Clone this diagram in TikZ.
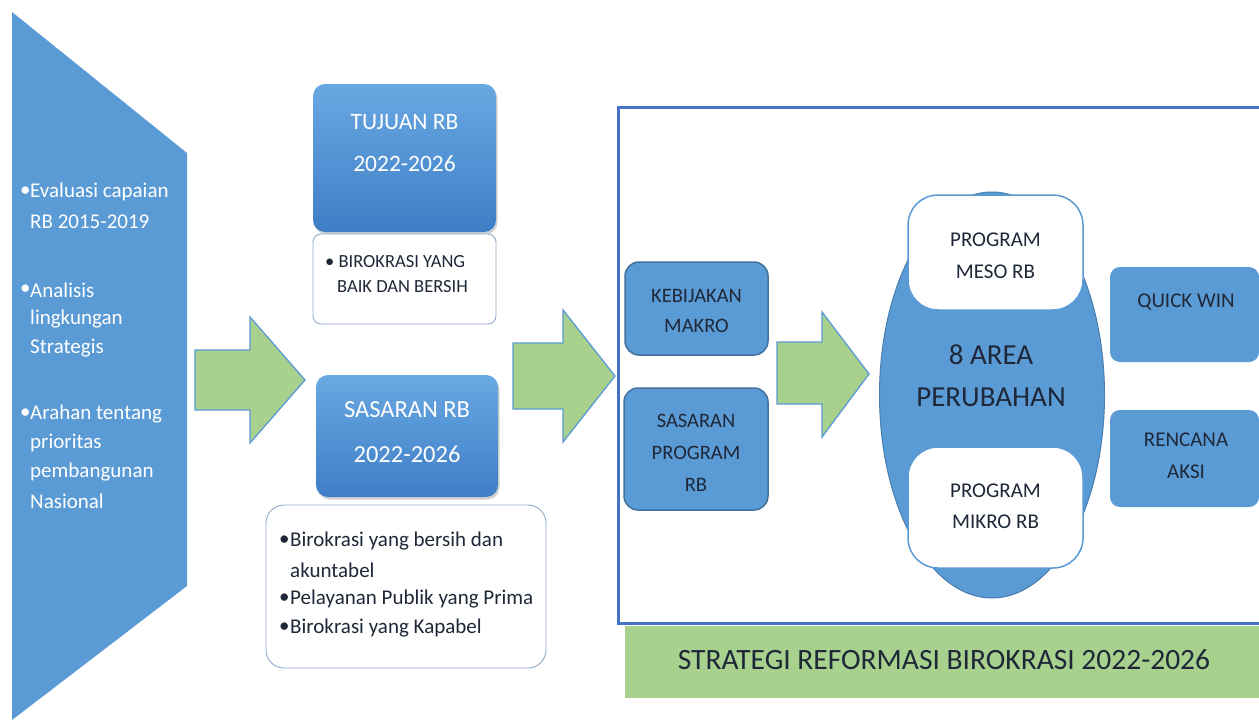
\documentclass[tikz,border=0pt]{standalone}
\usepackage{fontspec}
\setmainfont{Carlito}
\usetikzlibrary{shadows}
\definecolor{blueA}{HTML}{5B9BD5}
\definecolor{blueB}{HTML}{41719C}
\definecolor{blueTop}{HTML}{69A8E2}
\definecolor{blueBot}{HTML}{3F7EC6}
\definecolor{frameblue}{HTML}{4472C4}
\definecolor{greenA}{HTML}{A9D18E}
\definecolor{darktext}{HTML}{1E2838}
\definecolor{grayedge}{HTML}{8EA9C8}
\begin{document}
\begin{tikzpicture}[x=1pt,y=-1pt,
  chtext/.style={anchor=west,inner sep=0pt,text=white,font=\fontsize{21}{24}\selectfont},
  gradbox/.style={rounded corners=12pt,top color=blueTop,bottom color=blueBot,draw=none,
     drop shadow={shadow xshift=1.5pt,shadow yshift=-2.5pt,opacity=0.35}},
  gradtext/.style={text=white,align=center,inner sep=0pt},
  listbox/.style={draw=grayedge,line width=0.9pt,fill=white},
  listtext/.style={anchor=west,inner sep=0pt,text=darktext},
  blockarrow/.style={fill=greenA,draw=blueA,line width=1.3pt,line join=miter},
  macrobox/.style={fill=blueA,draw=blueB,line width=1.5pt,rounded corners=14pt},
  darklabel/.style={text=darktext,align=center,inner sep=0pt},
  innerbox/.style={fill=white,draw=blueA,line width=1.5pt,rounded corners=30pt},
  sidebox/.style={fill=blueA,draw=none,rounded corners=10pt}]
\useasboundingbox (0,0) rectangle (1259,723);
\fill[white] (0,0) rectangle (1259,723);

% left chevron
\fill[blueA] (12,12) -- (187,153) -- (187,586) -- (12,720) -- cycle;
\node[chtext] (b1) at (20,192) {\textbullet};
\node[chtext] (c1) at (30,192) {Evaluasi capaian};
\node[chtext] (c2) at (30,222) {RB 2015-2019};
\node[chtext] (b2) at (20,290) {\textbullet};
\node[chtext] (c3) at (30,290) {Analisis};
\node[chtext] (c4) at (30,319) {lingkungan};
\node[chtext] (c5) at (30,348) {Strategis};
\node[chtext] (b3) at (20,414) {\textbullet};
\node[chtext] (c6) at (30,414) {Arahan tentang};
\node[chtext] (c7) at (30,443) {prioritas};
\node[chtext] (c8) at (30,472) {pembangunan};
\node[chtext] (c9) at (30,501) {Nasional};

% arrows
\draw[blockarrow] (195,350) -- (250,350) -- (250,317) -- (305,380) -- (250,443) -- (250,410) -- (195,410) -- cycle;
\draw[blockarrow] (513,343) -- (563,343) -- (563,310) -- (615,376) -- (563,442) -- (563,409) -- (513,409) -- cycle;
\draw[blockarrow] (777,342) -- (822,342) -- (822,312) -- (869,374) -- (822,437) -- (822,404) -- (777,404) -- cycle;

% tujuan
\node[gradbox,minimum width=183pt,minimum height=148pt] (tuj) at (404.5,158) {};
\node[gradtext,font=\fontsize{23.5}{42}\selectfont] (tujt) at (404.5,143) {TUJUAN RB\\2022-2026};
\node[listbox,rounded corners=8pt,minimum width=183pt,minimum height=90pt] (tujl) at (404.5,279) {};
\node[listtext,font=\fontsize{18.5}{20}\selectfont] (tl1) at (325,262) {\textbullet\ BIROKRASI YANG};
\node[listtext,font=\fontsize{18.5}{20}\selectfont] (tl2) at (337,287) {BAIK DAN BERSIH};

% sasaran
\node[gradbox,minimum width=182pt,minimum height=122pt] (sas) at (407,436) {};
\node[gradtext,font=\fontsize{24.5}{45}\selectfont] (sast) at (407,432.5) {SASARAN RB\\2022-2026};
\node[listbox,rounded corners=18pt,minimum width=280pt,minimum height=163pt] (sasl) at (406,586.5) {};
\node[listtext,font=\fontsize{21}{24}\selectfont] (sb1) at (279,541) {\textbullet};
\node[listtext,font=\fontsize{21}{24}\selectfont] (sl1) at (290,541) {Birokrasi yang bersih dan};
\node[listtext,font=\fontsize{21}{24}\selectfont] (sl2) at (290,570) {akuntabel};
\node[listtext,font=\fontsize{21}{24}\selectfont] (sb2) at (279,599) {\textbullet};
\node[listtext,font=\fontsize{21}{24}\selectfont] (sl3) at (290,599) {Pelayanan Publik yang Prima};
\node[listtext,font=\fontsize{21}{24}\selectfont] (sb3) at (279,628) {\textbullet};
\node[listtext,font=\fontsize{21}{24}\selectfont] (sl4) at (290,628) {Birokrasi yang Kapabel};

% frame
\draw[frameblue,line width=3pt] (1265,107) -- (618,107) -- (618,623) -- (1265,623);
\fill[greenA] (625,625.5) rectangle (1259,698);
\node[darklabel,font=\fontsize{29.5}{32}\selectfont] (strat) at (944,660) {STRATEGI REFORMASI BIROKRASI 2022-2026};

% left boxes in frame
\node[macrobox,minimum width=143pt,minimum height=93pt] (keb) at (696.5,308.5) {};
\node[darklabel,font=\fontsize{20.5}{30}\selectfont] (kebt) at (696.5,311) {KEBIJAKAN\\MAKRO};
\node[macrobox,minimum width=144pt,minimum height=122pt] (spr) at (696,449) {};
\node[darklabel,font=\fontsize{20.5}{32}\selectfont] (sprt) at (696,453) {SASARAN\\PROGRAM\\RB};

% ellipse
\fill[blueA,draw=blueB!70!blueA,line width=1pt] (992,395) ellipse [x radius=112.5pt,y radius=203pt];
\node[innerbox,minimum width=175pt,minimum height=115pt] (meso) at (995.5,252.5) {};
\node[darklabel,font=\fontsize{21}{32}\selectfont] (mesot) at (995.5,256) {PROGRAM\\MESO RB};
\node[innerbox,minimum width=175pt,minimum height=121pt] (mikro) at (995.5,507.5) {};
\node[darklabel,font=\fontsize{21}{31}\selectfont] (mikrot) at (995.5,506.5) {PROGRAM\\MIKRO RB};
\node[darklabel,font=\fontsize{29}{42}\selectfont] (area) at (991,376) {8 AREA\\PERUBAHAN};

% right boxes
\node[sidebox,minimum width=149pt,minimum height=95pt] (qw) at (1184.5,314.5) {};
\node[darklabel,font=\fontsize{21}{30}\selectfont] (qwt) at (1186,302) {QUICK WIN};
\node[sidebox,minimum width=149pt,minimum height=97pt] (ra) at (1184.5,458.5) {};
\node[darklabel,font=\fontsize{21}{32}\selectfont] (rat) at (1186,456) {RENCANA\\AKSI};
\end{tikzpicture}
\end{document}
